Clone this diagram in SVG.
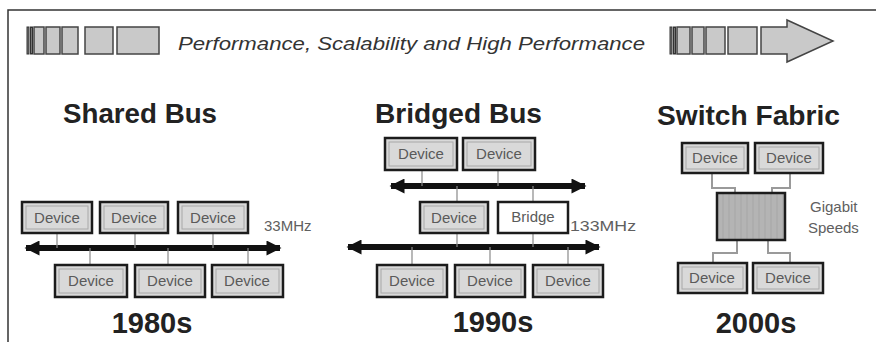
<svg xmlns="http://www.w3.org/2000/svg" width="876" height="342" viewBox="0 0 876 342">
  <defs>
    <marker id="busHead" viewBox="0 0 10 10" refX="9" refY="5" markerWidth="2.8" markerHeight="2.5" orient="auto-start-reverse" markerUnits="strokeWidth">
      <path d="M0,0 L10,5 L0,10 Z" fill="#111"/>
    </marker>
    <pattern id="fabricTex" width="6" height="6" patternUnits="userSpaceOnUse">
      <rect width="6" height="6" fill="#b4b4b4"/>
      <line x1="3" y1="0" x2="3" y2="6" stroke="#a6a6a6" stroke-width="1"/>
    </pattern>
  </defs>
  <style>
    .frame { stroke: #333; stroke-width: 1.5; fill: none; }
    .bar { fill: #c9c9c9; stroke: #444; stroke-width: 1.5; }
    .barDark { fill: #777; stroke: #333; stroke-width: 1; }
    .dev { fill: #d9d9d9; stroke: #1c1c1c; stroke-width: 2.5; }
    .devIn { fill: none; stroke: #a8a8a8; stroke-width: 1; }
    .bridge { fill: #ffffff; stroke: #1c1c1c; stroke-width: 2.5; }
    .lbl { font-family: "Liberation Sans", Arial, sans-serif; font-size: 15px; fill: #5a5a5a; text-anchor: middle; }
    .note { font-family: "Liberation Sans", Arial, sans-serif; font-size: 15px; fill: #606060; }
    .title { font-family: "Liberation Sans", Arial, sans-serif; font-size: 27px; font-weight: bold; fill: #222; }
    .era { font-family: "Liberation Sans", Arial, sans-serif; font-size: 29px; font-weight: bold; fill: #222; text-anchor: middle; }
    .bus { stroke: #111; stroke-width: 6; fill: none; marker-start: url(#busHead); marker-end: url(#busHead); }
    .tap { stroke: #8a8a8a; stroke-width: 1.2; fill: none; }
    .link { stroke: #9a9a9a; stroke-width: 2; fill: none; }
  </style>

  <!-- frame -->
  <path class="frame" d="M8,342 L8,10 L876,10"/>

  <!-- header strip -->
  <g id="header">
    <rect class="barDark" x="27" y="27" width="2" height="27"/>
    <rect class="barDark" x="30.5" y="27" width="2" height="27"/>
    <rect class="bar" x="34" y="27" width="10" height="27"/>
    <rect class="bar" x="46" y="27" width="14" height="27"/>
    <rect class="bar" x="62" y="27" width="16" height="27"/>
    <rect class="bar" x="85" y="27" width="28" height="27"/>
    <rect class="bar" x="117" y="27" width="42" height="27"/>
    <text x="178" y="50" font-family="'Liberation Sans', Arial, sans-serif" font-size="19" font-style="italic" fill="#333" textLength="467" lengthAdjust="spacingAndGlyphs">Performance, Scalability and High Performance</text>
    <rect class="barDark" x="670" y="27" width="2" height="27"/>
    <rect class="barDark" x="673.5" y="27" width="2" height="27"/>
    <rect class="bar" x="677" y="27" width="13" height="27"/>
    <rect class="bar" x="692" y="27" width="12" height="27"/>
    <rect class="bar" x="706" y="27" width="19" height="27"/>
    <rect class="bar" x="728" y="27" width="29" height="27"/>
    <path class="bar" d="M761,27 L787,27 L787,20 L833,41 L787,62 L787,54 L761,54 Z"/>
  </g>

  <!-- section titles -->
  <text class="title" x="63" y="123" textLength="154" lengthAdjust="spacingAndGlyphs">Shared Bus</text>
  <text class="title" x="375" y="123" textLength="167" lengthAdjust="spacingAndGlyphs">Bridged Bus</text>
  <text class="title" x="657" y="125" textLength="183" lengthAdjust="spacingAndGlyphs">Switch Fabric</text>

  <!-- connectors -->
  <g id="connectors">
    <!-- shared bus -->
    <path class="bus" d="M26,248 L280,248"/>
    <path class="tap" d="M57,233 V248 M135,233 V248 M213,233 V248 M90,248 V265 M168,248 V265 M248,248 V265"/>
    <!-- bridged bus -->
    <path class="bus" d="M391,186 L585,186"/>
    <path class="bus" d="M348,247 L599,247"/>
    <path class="tap" d="M422,170 V186 M498,170 V186 M457,186 V202 M533,186 V202 M457,233 V247 M533,233 V247 M412,247 V265 M490,247 V265 M568,247 V265"/>
    <!-- switch fabric -->
    <path class="link" d="M712,173 V188 H735 V193 M790,173 V188 H772 V193 M737,240 V253 H713 V263 M768,240 V253 H790 V263"/>
  </g>

  <!-- shared bus devices -->
  <g id="sb-dev1"><rect class="dev" x="22" y="202" width="70" height="31"/><rect class="devIn" x="26" y="206" width="62" height="23"/><text class="lbl" x="57" y="223">Device</text></g>
  <g id="sb-dev2"><rect class="dev" x="100" y="202" width="68" height="31"/><rect class="devIn" x="104" y="206" width="60" height="23"/><text class="lbl" x="134" y="223">Device</text></g>
  <g id="sb-dev3"><rect class="dev" x="178" y="202" width="70" height="31"/><rect class="devIn" x="182" y="206" width="62" height="23"/><text class="lbl" x="213" y="223">Device</text></g>
  <g id="sb-dev4"><rect class="dev" x="55" y="265" width="72" height="32"/><rect class="devIn" x="59" y="269" width="64" height="24"/><text class="lbl" x="91" y="286">Device</text></g>
  <g id="sb-dev5"><rect class="dev" x="135" y="265" width="70" height="32"/><rect class="devIn" x="139" y="269" width="62" height="24"/><text class="lbl" x="170" y="286">Device</text></g>
  <g id="sb-dev6"><rect class="dev" x="212" y="265" width="71" height="32"/><rect class="devIn" x="216" y="269" width="63" height="24"/><text class="lbl" x="247" y="286">Device</text></g>
  <text class="note" x="264" y="231">33MHz</text>
  <text class="era" x="152" y="333">1980s</text>

  <!-- bridged bus devices -->
  <g id="bb-dev1"><rect class="dev" x="385" y="138" width="72" height="32"/><rect class="devIn" x="389" y="142" width="64" height="24"/><text class="lbl" x="421" y="159">Device</text></g>
  <g id="bb-dev2"><rect class="dev" x="463" y="138" width="72" height="32"/><rect class="devIn" x="467" y="142" width="64" height="24"/><text class="lbl" x="499" y="159">Device</text></g>
  <g id="bb-dev3"><rect class="dev" x="420" y="202" width="68" height="31"/><rect class="devIn" x="424" y="206" width="60" height="23"/><text class="lbl" x="454" y="223">Device</text></g>
  <g id="bb-bridge"><rect class="bridge" x="498" y="202" width="70" height="31"/><text class="lbl" x="533" y="222" font-size="14">Bridge</text></g>
  <g id="bb-dev4"><rect class="dev" x="377" y="265" width="70" height="32"/><rect class="devIn" x="381" y="269" width="62" height="24"/><text class="lbl" x="412" y="286">Device</text></g>
  <g id="bb-dev5"><rect class="dev" x="455" y="265" width="70" height="32"/><rect class="devIn" x="459" y="269" width="62" height="24"/><text class="lbl" x="490" y="286">Device</text></g>
  <g id="bb-dev6"><rect class="dev" x="533" y="265" width="70" height="32"/><rect class="devIn" x="537" y="269" width="62" height="24"/><text class="lbl" x="568" y="286">Device</text></g>
  <text class="note" x="570" y="231" textLength="66" lengthAdjust="spacingAndGlyphs">133MHz</text>
  <text class="era" x="493" y="332">1990s</text>

  <!-- switch fabric -->
  <g id="sf-dev1"><rect class="dev" x="682" y="143" width="66" height="30"/><rect class="devIn" x="686" y="147" width="58" height="22"/><text class="lbl" x="715" y="163">Device</text></g>
  <g id="sf-dev2"><rect class="dev" x="755" y="143" width="68" height="30"/><rect class="devIn" x="759" y="147" width="60" height="22"/><text class="lbl" x="789" y="163">Device</text></g>
  <g id="sf-switch"><rect x="717" y="193" width="68" height="47" fill="url(#fabricTex)" stroke="#1c1c1c" stroke-width="2.5"/></g>
  <g id="sf-dev3"><rect class="dev" x="678" y="263" width="69" height="30"/><rect class="devIn" x="682" y="267" width="61" height="22"/><text class="lbl" x="712" y="283">Device</text></g>
  <g id="sf-dev4"><rect class="dev" x="753" y="263" width="70" height="30"/><rect class="devIn" x="757" y="267" width="62" height="22"/><text class="lbl" x="788" y="283">Device</text></g>
  <text class="note" x="810" y="212">Gigabit</text>
  <text class="note" x="808" y="233">Speeds</text>
  <text class="era" x="756" y="333">2000s</text>
</svg>
